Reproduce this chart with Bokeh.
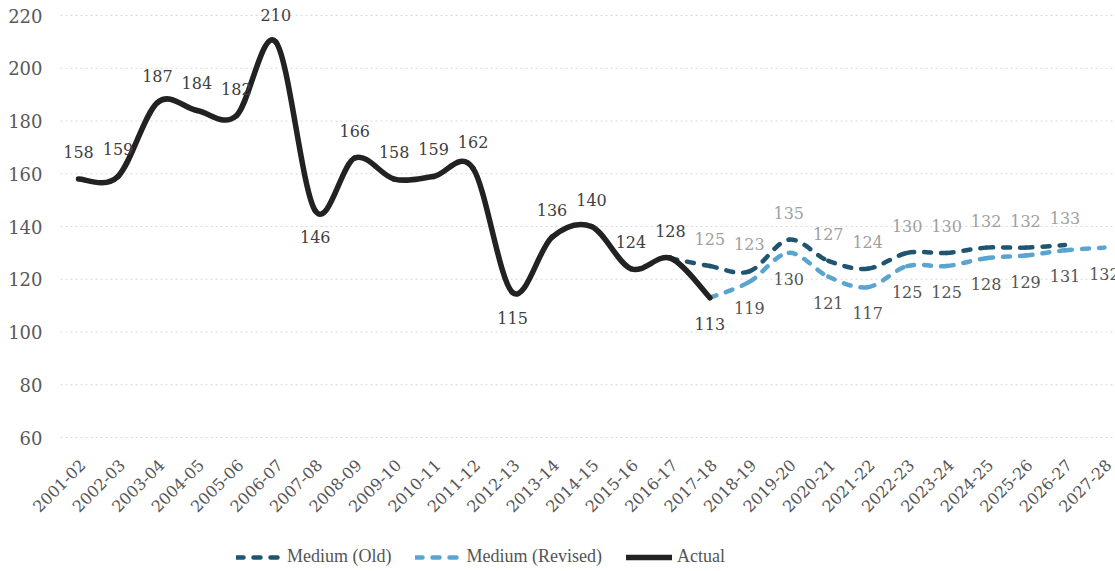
import math
from bokeh.plotting import figure
from bokeh.models import ColumnDataSource, Legend, LegendItem, Range1d
from bokeh.core.properties import value
from bokeh.embed import file_html
from bokeh.resources import INLINE

years = ["2001-02", "2002-03", "2003-04", "2004-05", "2005-06", "2006-07", "2007-08",
         "2008-09", "2009-10", "2010-11", "2011-12", "2012-13", "2013-14", "2014-15",
         "2015-16", "2016-17", "2017-18", "2018-19", "2019-20", "2020-21", "2021-22",
         "2022-23", "2023-24", "2024-25", "2025-26", "2026-27", "2027-28"]

actual_years = years[0:17]
actual = [158, 159, 187, 184, 182, 210, 146, 166, 158, 159, 162, 115, 136, 140, 124, 128, 113]

old_years = years[15:26]
medium_old = [128, 125, 123, 135, 127, 124, 130, 130, 132, 132, 133]

rev_years = years[16:27]
medium_revised = [113, 119, 130, 121, 117, 125, 125, 128, 129, 131, 132]

y_ticks = [60, 80, 100, 120, 140, 160, 180, 200, 220]

FONT = "DejaVu Serif"
idx = {y: i for i, y in enumerate(years)}

X_START, X_END = -1.977, 26.28
Y_START, Y_END = 9.2, 225.7
GRID_X0 = -0.456     # where the dotted grid lines begin
Y_BASE = 56          # value at which the category labels hang


def smooth_source(cats, vals, t=1.0 / 6.0):
    xs = [idx[c] for c in cats]
    n = len(xs)
    d = dict(x0=[], y0=[], x1=[], y1=[], cx0=[], cy0=[], cx1=[], cy1=[])
    for i in range(n - 1):
        a = i - 1 if i > 0 else i
        b = i + 2 if i + 2 < n else i + 1
        d["x0"].append(xs[i]); d["y0"].append(vals[i])
        d["x1"].append(xs[i + 1]); d["y1"].append(vals[i + 1])
        d["cx0"].append(xs[i] + (xs[i + 1] - xs[a]) * t)
        d["cy0"].append(vals[i] + (vals[i + 1] - vals[a]) * t)
        d["cx1"].append(xs[i + 1] - (xs[b] - xs[i]) * t)
        d["cy1"].append(vals[i + 1] - (vals[b] - vals[i]) * t)
    return ColumnDataSource(d)


p = figure(frame_width=1115, frame_height=571, output_backend="svg", toolbar_location=None,
           x_range=Range1d(X_START, X_END), y_range=Range1d(Y_START, Y_END),
           x_axis_location=None, y_axis_location=None,
           min_border_left=0, min_border_right=0, min_border_top=0, min_border_bottom=0)
p.outline_line_color = None
p.background_fill_color = "white"
p.xgrid.grid_line_color = None
p.ygrid.grid_line_color = None

# dotted horizontal grid lines at the value ticks
p.segment(x0=[GRID_X0] * len(y_ticks), x1=[X_END] * len(y_ticks), y0=y_ticks, y1=y_ticks,
          line_color="#d8d8d8", line_dash="2 3", line_width=1)

# value tick labels
p.text(x=[X_START] * len(y_ticks), y=y_ticks, text=[str(t) for t in y_ticks],
       x_offset=42, text_align="right", text_baseline="middle",
       text_font=value(FONT), text_font_size="18px", text_color="#5a5a5a")

# category labels (rotated)
p.text(x=list(range(len(years))), y=[Y_BASE] * len(years), text=years,
       angle=math.pi / 4, text_align="right", text_baseline="middle",
       x_offset=4, y_offset=14, text_font=value(FONT), text_font_size="16px",
       text_color="#555555")

OLD_C = "#1f5570"
REV_C = "#5aa5cf"
ACT_C = "#222222"

r_old = p.bezier(x0="x0", y0="y0", x1="x1", y1="y1", cx0="cx0", cy0="cy0", cx1="cx1", cy1="cy1",
                 source=smooth_source(old_years, medium_old), line_color=OLD_C, line_width=4.5,
                 line_dash="7 10", line_cap="round")
r_rev = p.bezier(x0="x0", y0="y0", x1="x1", y1="y1", cx0="cx0", cy0="cy0", cx1="cx1", cy1="cy1",
                 source=smooth_source(rev_years, medium_revised), line_color=REV_C, line_width=4.5,
                 line_dash="7 10", line_cap="round")
r_act = p.bezier(x0="x0", y0="y0", x1="x1", y1="y1", cx0="cx0", cy0="cy0", cx1="cx1", cy1="cy1",
                 source=smooth_source(actual_years, actual), line_color=ACT_C, line_width=5.5,
                 line_cap="round")


def add_labels(cats, vals, color, below_flags):
    above = dict(x=[], y=[], t=[])
    below = dict(x=[], y=[], t=[])
    for c, v, b in zip(cats, vals, below_flags):
        d = below if b else above
        d["x"].append(idx[c]); d["y"].append(v); d["t"].append(str(v))
    for d, off in ((above, -27), (below, 26)):
        if d["x"]:
            p.text(x="x", y="y", text="t", source=ColumnDataSource(d), text_align="center",
                   text_baseline="middle", y_offset=off, text_font=value(FONT),
                   text_font_size="16px", text_color=color)


add_labels(actual_years, actual, "#404040",
           [(i in (6, 11, 16)) for i in range(len(actual))])
add_labels(old_years[1:], medium_old[1:], "#a0a0a0", [False] * (len(medium_old) - 1))
add_labels(rev_years[1:], medium_revised[1:], "#555555", [True] * (len(medium_revised) - 1))

legend = Legend(items=[LegendItem(label="Medium (Old)", renderers=[r_old]),
                       LegendItem(label="Medium (Revised)", renderers=[r_rev]),
                       LegendItem(label="Actual", renderers=[r_act])],
                orientation="horizontal", location=(236, 4), border_line_color=None,
                background_fill_alpha=0,
                label_text_font="Liberation Serif", label_text_font_size="18px",
                label_text_color="#555555", glyph_width=46, glyph_height=14,
                spacing=24, label_standoff=5, margin=0, padding=4)
p.add_layout(legend, "center")

open("out.html", "w").write(file_html(p, INLINE))
